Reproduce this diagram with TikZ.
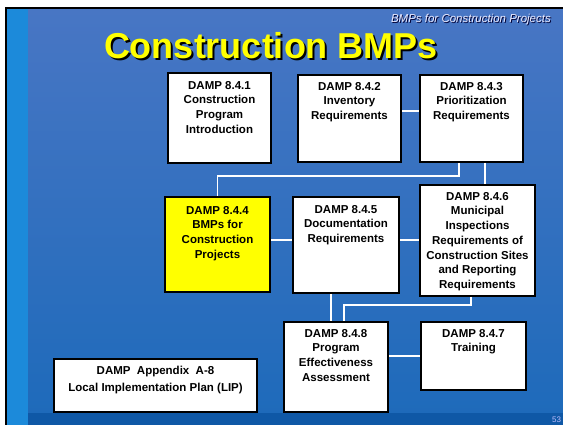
\documentclass[tikz,border=0pt]{standalone}
\usepackage{fontspec}
\setmainfont{Liberation Sans}
\usetikzlibrary{calc}
\definecolor{slidetop}{HTML}{4876C4}
\definecolor{slidemid}{HTML}{388AD4}
\definecolor{slidebot}{HTML}{1D6ABA}
\definecolor{slidestrip}{HTML}{1C8ADA}
\definecolor{slideband}{HTML}{0F58A6}
\definecolor{boxyellow}{HTML}{FFFF00}
\tikzset{
  dampbox/.style={draw=black,line width=2bp,fill=white,inner sep=0pt},
  damptext/.style={anchor=north,inner sep=0pt,align=center,text=black,
    font=\bfseries\fontsize{11.5bp}{14.7bp}\selectfont},
  link/.style={draw=white,line width=1.6bp},
}
\begin{document}
\begin{tikzpicture}[line join=miter]
%%
\useasboundingbox (0bp,0bp) rectangle (563bp,425bp);
\clip (0bp,0bp) rectangle (563bp,425bp);
\fill [white] (0bp,0bp) rectangle (563bp,425bp);
\fill [black] (5bp,0bp) rectangle (563bp,417.5bp);
\shade [top color=slidetop,middle color=slidemid,bottom color=slidebot] (7bp,0bp) rectangle (563bp,415.5bp);
\fill [slidestrip] (7bp,0bp) rectangle (28bp,415.5bp);
\fill [slideband] (28bp,0bp) rectangle (563bp,12bp);
%%
\node (title_shadow) at (273bp,364bp) [anchor=base,inner sep=0pt,text=black,font=\bfseries\fontsize{36bp}{40bp}\selectfont] {Construction BMPs};
  \node (title) at (271bp,366bp) [anchor=base,inner sep=0pt,text=boxyellow,font=\bfseries\fontsize{36bp}{40bp}\selectfont] {Construction BMPs};
  \node (subtitle_shadow) at (552bp,401bp) [anchor=base east,inner sep=0pt,text=black!80!blue,font=\itshape\fontsize{11.5bp}{13bp}\selectfont] {BMPs for Construction Projects};
  \node (subtitle) at (551bp,402bp) [anchor=base east,inner sep=0pt,text=white!92!blue,font=\itshape\fontsize{11.5bp}{13bp}\selectfont] {BMPs for Construction Projects};
  \node (page_no) at (552bp,8bp) [anchor=north west,inner sep=0pt,text=white!75!blue,font=\fontsize{8bp}{9bp}\selectfont] {53};
%%
\node (box_841) at (219.5bp,307bp) [dampbox,minimum width=103bp,minimum height=90bp] {};
  \node (box_842) at (349.5bp,306.5bp) [dampbox,minimum width=103bp,minimum height=87bp] {};
  \node (box_843) at (471.5bp,306.5bp) [dampbox,minimum width=103bp,minimum height=87bp] {};
  \node (box_844) at (217.5bp,180.5bp) [dampbox,fill=boxyellow,minimum width=105bp,minimum height=95bp] {};
  \node (box_845) at (346bp,180bp) [dampbox,minimum width=106bp,minimum height=96bp] {};
  \node (box_846) at (477.5bp,184.5bp) [dampbox,minimum width=115bp,minimum height=111bp] {};
  \node (box_848) at (336bp,58bp) [dampbox,minimum width=104bp,minimum height=90bp] {};
  \node (box_847) at (473.5bp,69bp) [dampbox,minimum width=105bp,minimum height=68bp] {};
  \node (box_a8) at (155.5bp,39.5bp) [dampbox,minimum width=203bp,minimum height=53bp] {};
%%
\node (text_841) at ([yshift=-9bp]box_841.north) [damptext] {DAMP 8.4.1\\Construction\\Program\\Introduction};
  \node (text_842) at ([yshift=-8bp]box_842.north) [damptext] {DAMP 8.4.2\\Inventory\\Requirements};
  \node (text_843) at ([yshift=-8bp]box_843.north) [damptext] {DAMP 8.4.3\\Prioritization\\Requirements};
  \node (text_844) at ([yshift=-10bp]box_844.north) [damptext] {DAMP 8.4.4\\BMPs for\\Construction\\Projects};
  \node (text_845) at ([yshift=-9bp]box_845.north) [damptext] {DAMP 8.4.5\\Documentation\\Requirements};
  \node (text_846) at ([yshift=-8bp]box_846.north) [damptext] {DAMP 8.4.6\\Municipal\\Inspections\\Requirements of\\Construction Sites\\and Reporting\\Requirements};
  \node (text_848) at ([yshift=-8bp]box_848.north) [damptext] {DAMP 8.4.8\\Program\\Effectiveness\\Assessment};
  \node (text_847) at ([yshift=-8bp]box_847.north) [damptext] {DAMP 8.4.7\\Training};
  \node (text_a8) at ([yshift=-8bp]box_a8.north) [damptext,font=\bfseries\fontsize{11.5bp}{16.5bp}\selectfont] {DAMP\ \ Appendix\ \ A-8\\Local Implementation Plan (LIP)};
%%
\coordinate (bend_1) at (217.5bp,249bp);
  \coordinate (bend_2) at (344bp,120bp);
  \draw [link] ([yshift=7.5bp]box_842.east) -- ([yshift=7.5bp]box_842.east -| box_843.west);
  \draw [link] ([xshift=-12.5bp]box_843.south) |- (bend_1) -- (box_844.north);
  \draw [link] ([xshift=13.5bp]box_843.south) -- ([xshift=13.5bp]box_843.south |- box_846.north);
  \draw [link] ([yshift=4.5bp]box_844.east) -- ([yshift=4.5bp]box_844.east -| box_845.west);
  \draw [link] ([yshift=5bp]box_845.east) -- ([yshift=5bp]box_845.east -| box_846.west);
  \draw [link] ([xshift=-15bp]box_845.south) -- ([xshift=-15bp]box_845.south |- box_848.north);
  \draw [link] ([xshift=-6.5bp]box_846.south) |- (bend_2) -- (bend_2 |- box_848.north);
  \draw [link] ([yshift=11bp]box_848.east) -- ([yshift=11bp]box_848.east -| box_847.west);
%
\end{tikzpicture}
\end{document}
